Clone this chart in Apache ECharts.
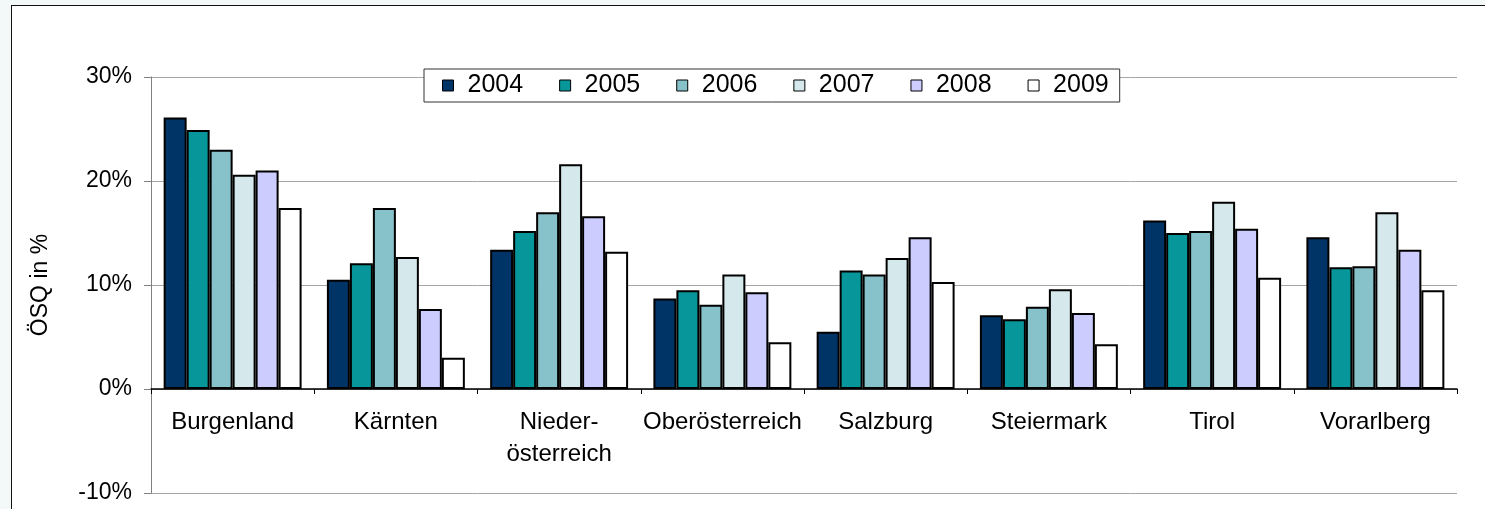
<!DOCTYPE html>
<html>
<head>
<meta charset="utf-8">
<script src="https://cdn.jsdelivr.net/npm/echarts@6/dist/echarts.min.js"></script>
<style>
    html, body { margin: 0; padding: 0; background: #f3f8f8; }
    #chart_osq {
        position: absolute; left: 11px; top: 5px;
        width: 1473px; height: 503px;
        border-left: 1px solid #111; border-top: 1px solid #111;
        background: #fff;
    }
</style>
</head>
<body>
<div id="chart_osq"></div>
<script>
var regions = ['Burgenland', 'Kärnten', 'Nieder-\nösterreich', 'Oberösterreich', 'Salzburg', 'Steiermark', 'Tirol', 'Vorarlberg'];
var years = ['2004', '2005', '2006', '2007', '2008', '2009'];

// ÖSQ in % je Bundesland
var osq_2004 = [26.1, 10.5, 13.4, 8.7, 5.5, 7.1, 16.2, 14.6];
var osq_2005 = [24.9, 12.1, 15.2, 9.5, 11.4, 6.7, 15.0, 11.7];
var osq_2006 = [23.0, 17.4, 17.0, 8.1, 11.0, 7.9, 15.2, 11.8];
var osq_2007 = [20.6, 12.7, 21.6, 11.0, 12.6, 9.6, 18.0, 17.0];
var osq_2008 = [21.0, 7.7, 16.6, 9.3, 14.6, 7.3, 15.4, 13.4];
var osq_2009 = [17.4, 3.0, 13.2, 4.5, 10.3, 4.3, 10.7, 9.5];

var y_ticks = [-10, 0, 10, 20, 30];

var osq_values = [osq_2004, osq_2005, osq_2006, osq_2007, osq_2008, osq_2009];
var colors = ['#003366', '#079699', '#87c1c9', '#d5e9ec', '#ccccff', '#ffffff'];
var font = '"Liberation Sans", Arial, sans-serif';

var echarts_osq = echarts.init(document.getElementById('chart_osq'));

var series_osq = [];
for (var i = 0; i < years.length; i++) {
    series_osq.push({
        name: years[i],
        type: 'bar',
        barGap: 0,
        barCategoryGap: '15.5%',
        itemStyle: {
            color: colors[i],
            borderColor: '#000',
            borderWidth: 2
        },
        data: osq_values[i]
    });
}

var grid_top = 71, grid_bottom = 16, chart_h = 503;
// pixel distance from the -10% line up to the 0% line
var zero_offset = (chart_h - grid_top - grid_bottom) * (0 - y_ticks[0]) / (y_ticks[y_ticks.length - 1] - y_ticks[0]);

var option_osq = {
    animation: false,
    textStyle: { fontFamily: font },
    legend: {
        data: years,
        left: 412,
        top: 63,
        orient: 'horizontal',
        icon: 'rect',
        itemWidth: 11,
        itemHeight: 11,
        itemGap: 36,
        padding: [4, 11, 4, 18],
        borderColor: '#333',
        borderWidth: 1,
        backgroundColor: '#fff',
        itemStyle: { borderColor: '#000', borderWidth: 1 },
        textStyle: { fontSize: 25, color: '#000', fontFamily: font, padding: [0, 0, 0, 9] }
    },
    grid: {
        left: 139,
        right: 28,
        top: grid_top,
        bottom: grid_bottom,
        containLabel: false,
        outerBoundsMode: 'none'
    },
    xAxis: {
        type: 'category',
        data: regions,
        position: 'bottom',
        offset: -zero_offset,
        axisLine: { onZero: false, lineStyle: { color: '#000', width: 1.5 } },
        axisTick: { show: true, length: 5, lineStyle: { color: '#000' } },
        axisLabel: {
            interval: 0,
            margin: 17,
            fontSize: 24,
            lineHeight: 32,
            color: '#000',
            fontFamily: font
        }
    },
    yAxis: {
        type: 'value',
        min: y_ticks[0],
        max: y_ticks[y_ticks.length - 1],
        interval: 10,
        name: 'ÖSQ in %',
        nameLocation: 'middle',
        nameGap: 99,
        nameTextStyle: { fontSize: 23, color: '#000', fontFamily: font },
        axisLine: { show: true, lineStyle: { color: '#808080', width: 1 } },
        axisTick: { show: true, length: 7, lineStyle: { color: '#808080' } },
        axisLabel: {
            formatter: '{value}%',
            margin: 19,
            fontSize: 23,
            color: '#000',
            fontFamily: font
        },
        splitLine: { show: true, lineStyle: { color: '#a6a6a6', width: 1 } }
    },
    series: series_osq
};

echarts_osq.setOption(option_osq);
</script>
</body>
</html>
